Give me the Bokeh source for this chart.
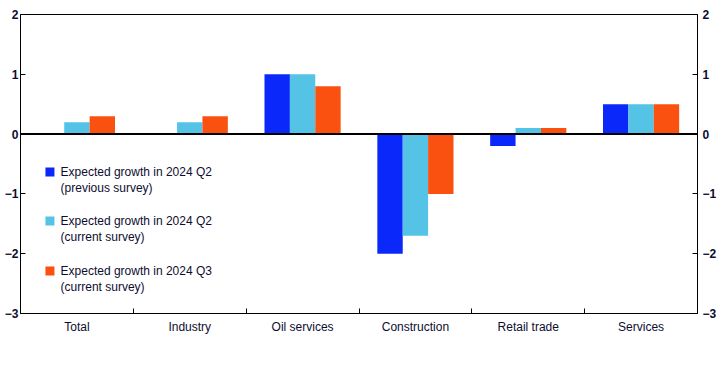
from bokeh.plotting import figure
from bokeh.models import LinearAxis, FixedTicker, Span, Range1d
from bokeh.core.properties import value
from bokeh.embed import file_html
from bokeh.resources import INLINE
import numpy as np

categories = ["Total", "Industry", "Oil services", "Construction", "Retail trade", "Services"]
prev_q2 = [0.0, 0.0, 1.0, -2.0, -0.2, 0.5]
curr_q2 = [0.2, 0.2, 1.0, -1.7, 0.1, 0.5]
curr_q3 = [0.3, 0.3, 0.8, -1.0, 0.1, 0.5]
series_line1 = ["Expected growth in 2024 Q2",
                "Expected growth in 2024 Q2",
                "Expected growth in 2024 Q3"]
series_line2 = ["(previous survey)", "(current survey)", "(current survey)"]
colors = ["#0a28fa", "#55c3e6", "#fa5010"]
y_ticks = [-3, -2, -1, 0, 1, 2]

FONT = "Liberation Sans"
TXT = "#0d0d30"

p = figure(width=722, height=379, output_backend="svg", toolbar_location=None,
           x_range=Range1d(0, len(categories)), y_range=Range1d(-3, 2),
           min_border_top=14, min_border_bottom=66, min_border_left=20, min_border_right=25)
p.xgrid.visible = False
p.ygrid.visible = False
p.outline_line_color = "black"
p.outline_line_width = 1
p.background_fill_color = "white"
p.border_fill_color = "white"

centers = np.arange(len(categories)) + 0.5
bw = 0.225
for k, (vals, col) in enumerate(zip([prev_q2, curr_q2, curr_q3], colors)):
    p.vbar(x=centers + (k - 1) * bw, top=vals, bottom=0, width=bw,
           fill_color=col, line_color=None)

# x axis: labels at category centres, small ticks at the boundaries
xa = p.xaxis[0]
xa.ticker = FixedTicker(ticks=list(centers), minor_ticks=list(range(1, len(categories))))
xa.major_label_overrides = {float(c): n for c, n in zip(centers, categories)}
xa.major_tick_in = 0
xa.major_tick_out = 0
xa.minor_tick_in = 5
xa.minor_tick_out = 0
xa.minor_tick_line_color = "black"
xa.axis_line_color = "black"
xa.major_label_standoff = 6
xa.major_label_text_font = FONT
xa.major_label_text_font_size = "12px"
xa.major_label_text_color = TXT

def style_y(ax, standoff):
    ax.ticker = FixedTicker(ticks=y_ticks)
    ax.major_tick_in = 5
    ax.major_tick_out = 0
    ax.minor_tick_line_color = None
    ax.axis_line_color = "black"
    ax.major_label_standoff = standoff
    ax.major_label_text_font = FONT
    ax.major_label_text_font_size = "12px"
    ax.major_label_text_font_style = "bold"
    ax.major_label_text_color = TXT

style_y(p.yaxis[0], 2)
ra = LinearAxis()
style_y(ra, 5)
p.add_layout(ra, "right")

p.add_layout(Span(location=0, dimension="width", line_color="black", line_width=2))

# legend (drawn by hand so the swatch sits on the first line)
leg_sq_x = 0.261
leg_tx_x = 0.355
leg_y1 = [-0.635, -1.455, -2.291]
leg_y2 = [-0.903, -1.722, -2.559]
p.scatter(x=[leg_sq_x] * 3, y=leg_y1, marker="square", size=9, fill_color=colors, line_color=None)
p.text(x=[leg_tx_x] * 3, y=leg_y1, text=series_line1, text_font=value(FONT),
       text_font_size="12px", text_color=TXT, text_baseline="middle", text_align="left")
p.text(x=[leg_tx_x] * 3, y=leg_y2, text=series_line2, text_font=value(FONT),
       text_font_size="12px", text_color=TXT, text_baseline="middle", text_align="left")

open("out.html", "w").write(file_html(p, INLINE))
